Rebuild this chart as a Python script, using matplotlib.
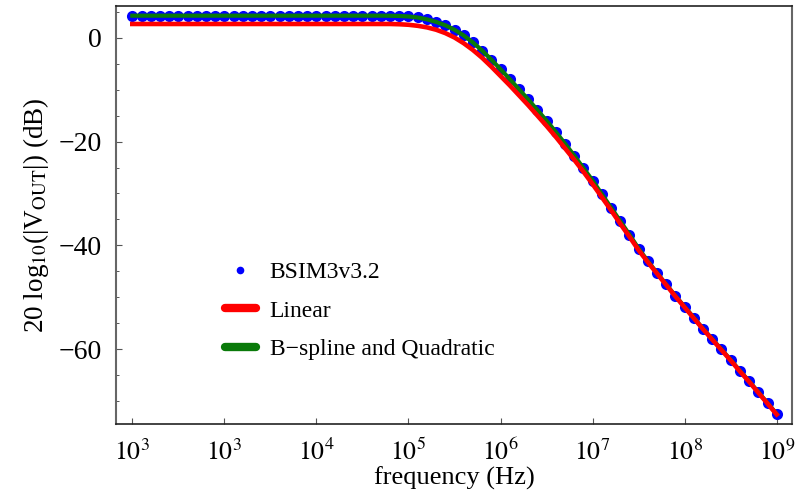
import numpy as np
import matplotlib
matplotlib.use("Agg")
import matplotlib.pyplot as plt
from matplotlib.lines import Line2D

plt.rcParams['font.family'] = ['Liberation Serif', 'DejaVu Serif']
plt.rcParams['mathtext.fontset'] = 'stix'
plt.rcParams['axes.unicode_minus'] = True

# AC sweep: 10 points per decade, 1e2 .. 1e9 Hz
freq_hz = np.logspace(2, 9, 71)

bsim_db = [4.2] * 27 + [
    4.2, 4.18, 4.14, 4.05, 3.85, 3.5, 3.0, 2.35, 1.5, 0.4,
    -0.95, -2.5, -4.25, -6.1, -8.0, -9.95, -11.9, -13.95, -16.0, -18.15,
    -20.4, -22.7, -25.1, -27.5, -30.1, -32.7, -35.3, -37.9, -40.6, -43.0,
    -45.3, -47.5, -49.7, -51.8, -53.9, -56.0, -58.0, -60.0, -62.0, -64.1,
    -66.1, -68.2, -70.3, -72.4]

bspline_db = [4.2] * 27 + [
    4.2, 4.18, 4.14, 4.05, 3.85, 3.5, 3.0, 2.35, 1.5, 0.4,
    -0.95, -2.5, -4.25, -6.1, -8.0, -9.95, -11.9, -13.95, -16.0, -18.15,
    -20.4, -22.7, -25.1, -27.5, -30.1, -32.7, -35.3, -37.9, -40.6, -43.0,
    -45.3, -47.5, -49.7, -51.8, -53.9, -56.0, -58.0, -60.0, -62.0, -64.1,
    -66.1, -68.2, -70.3, -72.4]

linear_db = [2.6] * 29 + [
    2.55, 2.45, 2.25, 1.95, 1.5, 0.85, 0.0, -1.1, -2.4, -3.9,
    -5.6, -7.4, -9.2, -11.1, -13.0, -15.0, -17.0, -19.1, -21.3, -23.5,
    -25.8, -28.2, -30.7, -33.2, -35.8, -38.3, -40.9, -43.2, -45.4, -47.6,
    -49.8, -51.9, -54.0, -56.1, -58.1, -60.1, -62.1, -64.2, -66.2, -68.3,
    -70.4, -72.5]

xtick_vals = [1e2, 1e3, 1e4, 1e5, 1e6, 1e7, 1e8, 1e9]
xtick_labels = ['$10^{3}$', '$10^{3}$', '$10^{4}$', '$10^{5}$',
                '$10^{6}$', '$10^{7}$', '$10^{8}$', '$10^{9}$']
ytick_vals = [0, -20, -40, -60]

fig = plt.figure(figsize=(8.03, 4.94), dpi=100)
ax = fig.add_axes([116/803, 1-424/494, (792-116)/803, (424-6)/494])

ax.plot(freq_hz, bsim_db, 'o', color='blue', markersize=8, markeredgewidth=0, zorder=2)
ax.plot(freq_hz, bspline_db, '-', color='#0a7a0a', lw=3.0, zorder=3)
ax.plot(freq_hz, linear_db, '-', color='red', lw=3.3, zorder=4)

ax.set_xscale('log')
ax.set_xlim(10**1.823, 10**9.166)
ax.set_ylim(-74.33, 6.06)

ax.set_xticks(xtick_vals)
ax.set_xticklabels(xtick_labels)
ax.xaxis.set_minor_locator(matplotlib.ticker.NullLocator())
ax.set_yticks(ytick_vals)
ax.set_yticks(np.arange(-70, 6, 5), minor=True)

ax.tick_params(axis='both', which='major', direction='in', length=4, width=0.8,
               color='#555555')
ax.tick_params(axis='both', which='minor', direction='in', length=2.5, width=0.7,
               color='#555555')
ax.tick_params(axis='y', which='major', labelsize=20, pad=10)
ax.tick_params(axis='x', which='major', labelsize=18.5, pad=11)

for side in ['left', 'right']:
    ax.spines[side].set_color('#666666')
    ax.spines[side].set_linewidth(1.5)
for side in ['top', 'bottom']:
    ax.spines[side].set_color('#222222')
    ax.spines[side].set_linewidth(1.2)

ax.set_xlabel('frequency (Hz)', fontsize=19, labelpad=1)
ax.set_ylabel(r'20 log$_{10}$(|V$_{\mathrm{OUT}}$|) (dB)', fontsize=19.5, labelpad=6)

handles = [
    Line2D([], [], ls='none', marker='o', color='blue', markersize=5.5, markeredgewidth=0),
    Line2D([], [], color='red', lw=6, solid_capstyle='round'),
    Line2D([], [], color='#0a7a0a', lw=6, solid_capstyle='round'),
]
labels = ['BSIM3v3.2', 'Linear', 'B\u2212spline and Quadratic']
ax.legend(handles, labels, loc='upper left', bbox_to_anchor=(0.147, 0.411),
          frameon=False, fontsize=17, handlelength=1.3, handletextpad=0.6,
          labelspacing=0.72, borderaxespad=0)

fig.savefig('out.png', dpi=100)
